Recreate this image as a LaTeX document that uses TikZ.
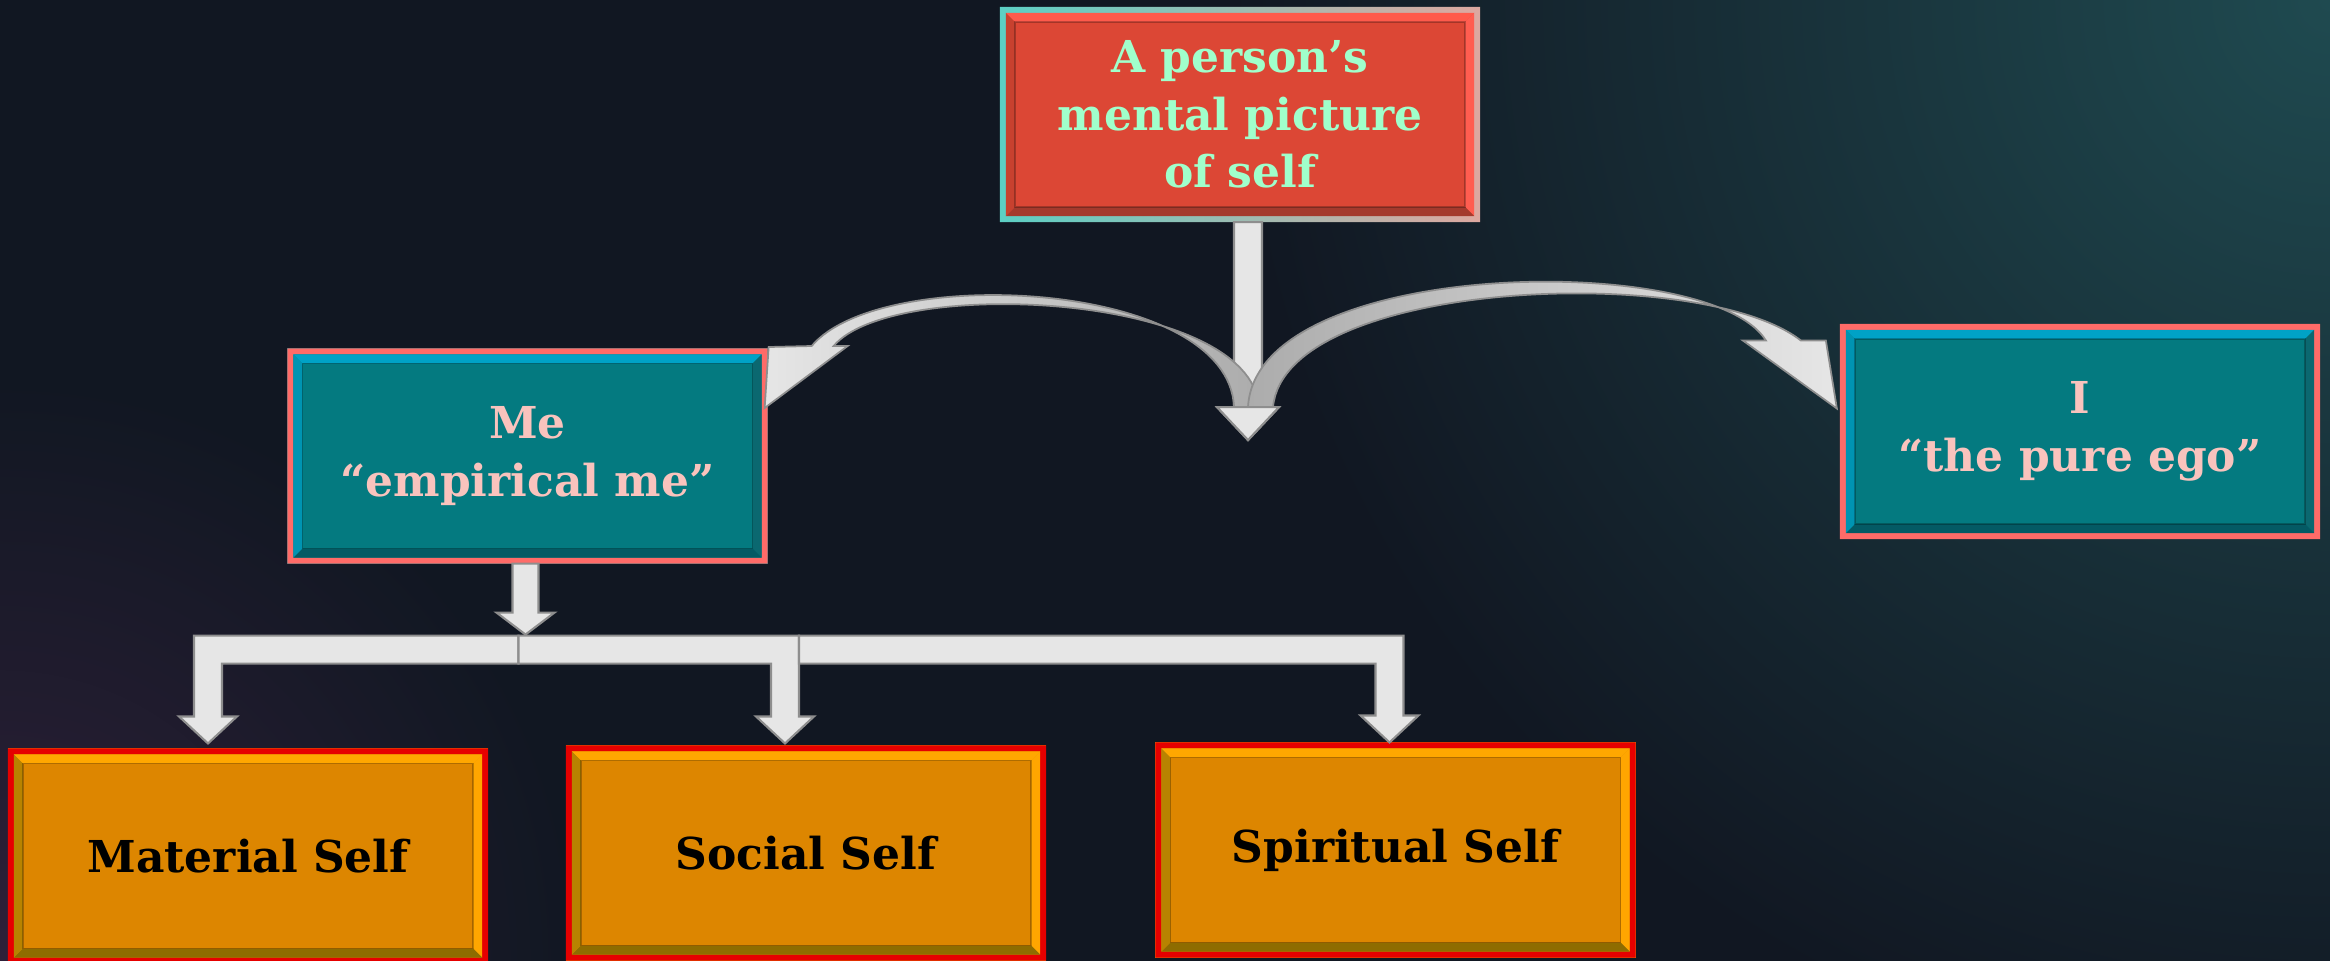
\documentclass[tikz,border=0pt]{standalone}
\usepackage{fontspec}
\setmainfont{DejaVu Serif}
\usetikzlibrary{calc}

% palette
\definecolor{bgc}{HTML}{111722}
\definecolor{glowteal}{HTML}{1F4A50}
\definecolor{glowplum}{HTML}{2E2039}
\definecolor{mint}{HTML}{A0FFCB}
\definecolor{blush}{HTML}{F9C3BD}
\definecolor{redface}{HTML}{DC4735}
\definecolor{redrimL}{HTML}{5CCFC4}
\definecolor{redrimR}{HTML}{DDA8A0}
\definecolor{redtop}{HTML}{FF5A4B}
\definecolor{redright}{HTML}{FF5D50}
\definecolor{redbottom}{HTML}{A43A2D}
\definecolor{redleft}{HTML}{C8412F}
\definecolor{tealface}{HTML}{047A80}
\definecolor{tealrim}{HTML}{FF6B68}
\definecolor{tealtop}{HTML}{00A2C6}
\definecolor{tealright}{HTML}{0B6870}
\definecolor{tealbottom}{HTML}{045A64}
\definecolor{tealleft}{HTML}{0094B2}
\definecolor{amberface}{HTML}{DD8600}
\definecolor{amberrim}{HTML}{E60000}
\definecolor{ambertop}{HTML}{FFA700}
\definecolor{amberright}{HTML}{FFA600}
\definecolor{amberbottom}{HTML}{8E6C00}
\definecolor{amberleft}{HTML}{B88300}
\definecolor{arrowfill}{HTML}{E6E6E6}
\definecolor{arrowdark}{HTML}{ACACAC}
\definecolor{arrowline}{HTML}{8E8E8E}

\tikzset{
  box/.style={minimum width=4.8cm, minimum height=2.15cm, inner sep=0pt,
    outer sep=0pt, align=center,
    font=\fontsize{12.5}{16.4}\selectfont\bfseries},
  blockarrow/.style={fill=arrowfill, draw=arrowline, line width=0.6pt, line join=miter},
  curvearrow/.style={draw=arrowline, line width=0.5pt, line join=miter},
}

% raised frame round a box: #1 node, #2 rim style, #3 top, #4 right, #5 bottom, #6 left
\newcommand\bevelframe[6]{%
  \path[#2, even odd rule] (#1.north west) rectangle (#1.south east)
    ($(#1.north west)+(6,6)$) rectangle ($(#1.south east)+(-6,-6)$);
  \fill[#3] ($(#1.north west)+(6,6)$) -- ($(#1.north east)+(-6,6)$)
    -- ($(#1.north east)+(-15,15)$) -- ($(#1.north west)+(15,15)$) -- cycle;
  \fill[#4] ($(#1.north east)+(-6,6)$) -- ($(#1.south east)+(-6,-6)$)
    -- ($(#1.south east)+(-15,-15)$) -- ($(#1.north east)+(-15,15)$) -- cycle;
  \fill[#5] ($(#1.south east)+(-6,-6)$) -- ($(#1.south west)+(6,-6)$)
    -- ($(#1.south west)+(15,-15)$) -- ($(#1.south east)+(-15,-15)$) -- cycle;
  \fill[#6] ($(#1.south west)+(6,-6)$) -- ($(#1.north west)+(6,6)$)
    -- ($(#1.north west)+(15,15)$) -- ($(#1.south west)+(15,-15)$) -- cycle;
  \draw[black, opacity=0.25, line width=0.4pt]
    ($(#1.north west)+(15,15)$) rectangle ($(#1.south east)+(-15,-15)$);
}

\begin{document}
\begin{tikzpicture}[x=0.01cm, y=-0.01cm]
\useasboundingbox (0,0) rectangle (2330,960);

% backdrop with two soft glows
\fill[bgc] (-20,-20) rectangle (2350,980);
\begin{scope}
  \clip (-20,-20) rectangle (2350,980);
  \shade[inner color=glowteal, outer color=bgc] (2330,0) circle (1100);
  \shade[inner color=glowplum, outer color=bgc] (0,960) circle (580);
\end{scope}

% boxes
\node[box, fill=redface, text=mint] (top) at (1240,114.5)
  {A person’s\\mental picture\\of self};
\node[box, fill=tealface, text=blush] (me) at (527.5,456)
  {Me\\“empirical me”};
\node[box, fill=tealface, text=blush] (ego) at (2080,431.5)
  {I\\“the pure ego”};
\node[box, fill=amberface, text=black] (material) at (248,856) {Material Self};
\node[box, fill=amberface, text=black] (social) at (806,853) {Social Self};
\node[box, fill=amberface, text=black] (spiritual) at (1395.5,850) {Spiritual Self};

\bevelframe{top}{left color=redrimL, right color=redrimR}%
  {redtop}{redright}{redbottom}{redleft}
\bevelframe{me}{fill=tealrim}{tealtop}{tealright}{tealbottom}{tealleft}
\bevelframe{ego}{fill=tealrim}{tealtop}{tealright}{tealbottom}{tealleft}
\bevelframe{material}{fill=amberrim}{ambertop}{amberright}{amberbottom}{amberleft}
\bevelframe{social}{fill=amberrim}{ambertop}{amberright}{amberbottom}{amberleft}
\bevelframe{spiritual}{fill=amberrim}{ambertop}{amberright}{amberbottom}{amberleft}

% anchor points of the connectors
\coordinate (tb)   at ($(top.south)+(8,0)$);
\coordinate (hub)  at ($(tb)+(0,185)$);
\coordinate (ctip) at ($(tb)+(0,218)$);
\coordinate (ltip) at ($(me.east)+(-3,-48)$);
\coordinate (rtip) at ($(ego.west)+(-3,-23)$);
\coordinate (mb)   at ($(me.south)+(-2,0)$);
\coordinate (mtip) at ($(mb)+(0,71)$);
\coordinate (bar)  at ($(mtip)+(0,1)$);
\coordinate (t1)   at ($(material.north)+(-40,-5)$);
\coordinate (t2)   at ($(social.north)+(-21,-2)$);
\coordinate (t3)   at ($(spiritual.north)+(-6,0)$);

% straight arrow below the top box
\path[blockarrow] ($(tb)+(-14,0)$) -- ++(0,185) -- ++(-17,0) -- (ctip)
  -- ++(31,-33) -- ++(-17,0) -- ++(0,-185) -- cycle;

% curved arrow to "Me"
\path[curvearrow, left color=arrowfill, right color=arrowdark]
  ($(hub)+(-14,0)$) .. controls +(-5,-127) and +(70,-83) .. ($(ltip)+(47,-62)$)
  -- ($(ltip)+(4,-61)$) -- (ltip) -- ($(ltip)+(83,-62)$) -- ($(ltip)+(69,-62)$)
  .. controls +(58,-70) and +(-8,-115) .. ($(hub)+(11,0)$) -- cycle;

% curved arrow to "I"
\path[curvearrow, left color=arrowdark, right color=arrowfill]
  (hub) .. controls +(8,-150) and +(-55,-90) .. ($(rtip)+(-71,-68)$)
  -- ($(rtip)+(-94,-68)$) -- (rtip) -- ($(rtip)+(-11,-68)$) -- ($(rtip)+(-36,-68)$)
  .. controls +(-100,-78) and +(12,-128) .. ($(hub)+(25,0)$) -- cycle;

% head of the straight arrow, in front of the curves
\path[blockarrow] ($(ctip)+(-31,-33)$) -- (ctip) -- ($(ctip)+(31,-33)$) -- cycle;

% branching connector from "Me" to the three selves
\path[blockarrow] ($(bar)+(-7,0)$) -- ($(t1 |- bar)+(-14,0)$) -- ($(t1)+(-14,-27)$)
  -- ($(t1)+(-29,-27)$) -- (t1) -- ($(t1)+(29,-27)$) -- ($(t1)+(14,-27)$)
  -- ($(t1 |- bar)+(14,28)$) -- ($(bar)+(-7,28)$) -- cycle;
\path[blockarrow] ($(bar)+(-7,0)$) -- ($(t2 |- bar)+(14,0)$) -- ($(t2)+(14,-27)$)
  -- ($(t2)+(29,-27)$) -- (t2) -- ($(t2)+(-29,-27)$) -- ($(t2)+(-14,-27)$)
  -- ($(t2 |- bar)+(-14,28)$) -- ($(bar)+(-7,28)$) -- cycle;
\path[blockarrow] ($(t2 |- bar)+(14,0)$) -- ($(t3 |- bar)+(14,0)$) -- ($(t3)+(14,-27)$)
  -- ($(t3)+(29,-27)$) -- (t3) -- ($(t3)+(-29,-27)$) -- ($(t3)+(-14,-27)$)
  -- ($(t3 |- bar)+(-14,28)$) -- ($(t2 |- bar)+(14,28)$) -- cycle;

% short arrow out of "Me"
\path[blockarrow] ($(mb)+(-13,0)$) -- ++(0,49) -- ++(-16,0) -- (mtip)
  -- ++(29,-22) -- ++(-16,0) -- ++(0,-49) -- cycle;
\end{tikzpicture}
\end{document}
